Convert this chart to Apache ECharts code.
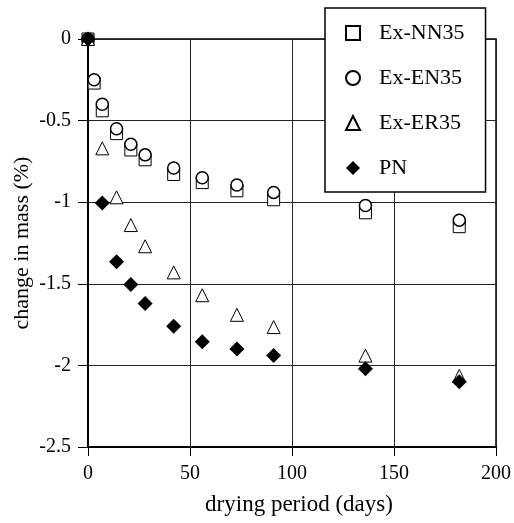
<!DOCTYPE html>
<html>
<head>
<meta charset="UTF-8">
<script src="https://cdn.jsdelivr.net/npm/echarts@6/dist/echarts.min.js"></script>
<style>
  html, body { margin: 0; padding: 0; background: #fff; }
  #chart { width: 514px; height: 523px; }
</style>
</head>
<body>
<div id="chart"></div>
<script>
// drying days for each series
var daysNN = [0, 3, 7, 14, 21, 28, 42, 56, 73, 91, 136, 182];
var daysEN = [0, 3, 7, 14, 21, 28, 42, 56, 73, 91, 136, 182];
var daysER = [0, 7, 14, 21, 28, 42, 56, 73, 91, 136, 182];
var daysPN = [0, 7, 14, 21, 28, 42, 56, 73, 91, 136, 182];

// change in mass (%)
var massNN = [0, -0.27, -0.44, -0.58, -0.68, -0.74, -0.83, -0.88, -0.93, -0.985, -1.065, -1.15];
var massEN = [0, -0.25, -0.40, -0.55, -0.645, -0.71, -0.79, -0.85, -0.895, -0.94, -1.02, -1.11];
var massER = [0, -0.67, -0.97, -1.14, -1.27, -1.43, -1.57, -1.69, -1.765, -1.94, -2.065];
var massPN = [0, -1.005, -1.365, -1.505, -1.62, -1.76, -1.855, -1.90, -1.94, -2.02, -2.10];

var seriesNames = ['Ex-NN35', 'Ex-EN35', 'Ex-ER35', 'PN'];

function pairs(xs, ys) {
  var out = [];
  for (var i = 0; i < xs.length; i++) {
    out.push([xs[i], ys[i]]);
  }
  return out;
}

var font = '"Liberation Serif", "Times New Roman", serif';

var chart = echarts.init(document.getElementById('chart'));
var option = {
  animation: false,
  textStyle: { fontFamily: font, color: '#000' },
  grid: {
    left: 88, top: 39, right: 18, bottom: 76,
    show: true, borderColor: '#000', borderWidth: 1.5
  },
  legend: {
    data: seriesNames,
    orient: 'vertical',
    left: 325, top: 8,
    padding: [14, 21, 13, 20],
    itemGap: 23,
    itemWidth: 14, itemHeight: 14,
    backgroundColor: '#fff',
    borderColor: '#000', borderWidth: 1.5,
    textStyle: { fontFamily: font, fontSize: 22, color: '#000', padding: [0, 0, 0, 14] }
  },
  xAxis: {
    type: 'value',
    min: 0, max: 200, interval: 50,
    name: 'drying period (days)',
    nameLocation: 'middle', nameGap: 46, nameMoveOverlap: false,
    nameTextStyle: { fontFamily: font, fontSize: 23, color: '#000', padding: [0, 0, 0, 14] },
    axisLine: { show: true, onZero: false, lineStyle: { color: '#000', width: 2 } },
    axisTick: { show: true, length: 9, lineStyle: { color: '#000', width: 1 } },
    axisLabel: { fontFamily: font, fontSize: 20, color: '#000', margin: 17 },
    splitLine: { show: true, lineStyle: { color: '#222', width: 1 } }
  },
  yAxis: {
    type: 'value',
    min: -2.5, max: 0, interval: 0.5,
    name: 'change in mass (%)',
    nameLocation: 'middle', nameGap: 55, nameMoveOverlap: false,
    nameTextStyle: { fontFamily: font, fontSize: 22, color: '#000' },
    axisLine: { show: true, onZero: false, lineStyle: { color: '#000', width: 2 } },
    axisTick: { show: true, length: 10, lineStyle: { color: '#000', width: 1 } },
    axisLabel: { fontFamily: font, fontSize: 20, color: '#000', margin: 17 },
    splitLine: { show: true, lineStyle: { color: '#222', width: 1 } }
  },
  series: [
    {
      name: seriesNames[0], type: 'scatter', symbol: 'rect', symbolSize: 12,
      itemStyle: { color: '#fff', borderColor: '#000', borderWidth: 1, opacity: 1 },
      data: pairs(daysNN, massNN), z: 2
    },
    {
      name: seriesNames[1], type: 'scatter', symbol: 'circle', symbolSize: 12,
      itemStyle: { color: '#fff', borderColor: '#000', borderWidth: 1.5, opacity: 1 },
      data: pairs(daysEN, massEN), z: 3
    },
    {
      name: seriesNames[2], type: 'scatter', symbol: 'triangle', symbolSize: 13,
      itemStyle: { color: '#fff', borderColor: '#000', borderWidth: 1, opacity: 1 },
      data: pairs(daysER, massER), z: 4
    },
    {
      name: seriesNames[3], type: 'scatter', symbol: 'diamond', symbolSize: 15,
      itemStyle: { color: '#000', borderColor: '#000', borderWidth: 0, opacity: 1 },
      data: pairs(daysPN, massPN), z: 5
    }
  ]
};
chart.setOption(option);
</script>
</body>
</html>
